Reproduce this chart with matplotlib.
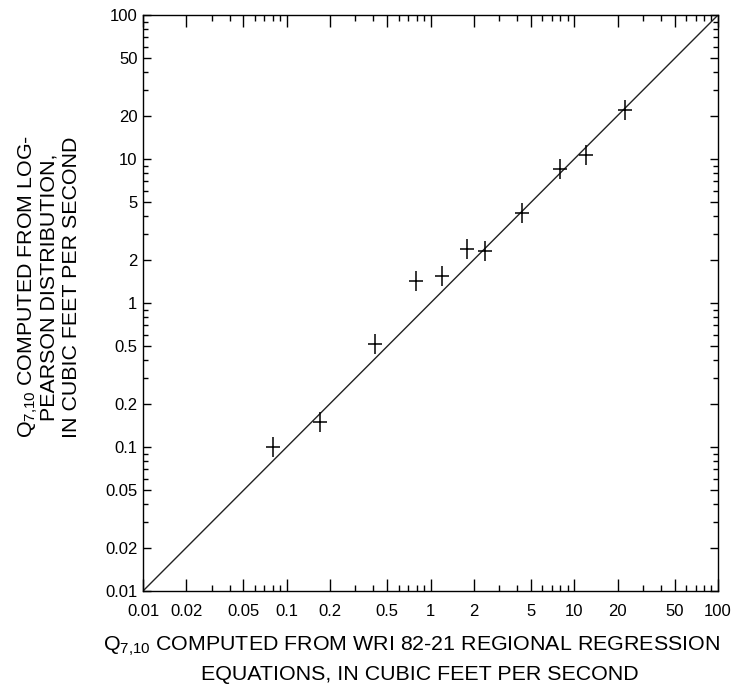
import matplotlib
matplotlib.use("Agg")
import matplotlib.pyplot as plt
from matplotlib.path import Path
from matplotlib.ticker import FixedLocator, NullFormatter

plt.rcParams['font.family'] = ['Liberation Sans', 'DejaVu Sans']
plt.rcParams['mathtext.fontset'] = 'custom'
plt.rcParams['mathtext.rm'] = 'Liberation Sans'

# Q7,10 from regression equations (x) vs log-Pearson distribution (y)
q_regression = [0.08, 0.17, 0.41, 0.79, 1.2, 1.8, 2.4, 4.3, 8.0, 12.0, 22.5]
q_logpearson = [0.10, 0.15, 0.52, 1.42, 1.55, 2.36, 2.3, 4.2, 8.5, 10.6, 22.0]

major_ticks = [0.01, 0.02, 0.05, 0.1, 0.2, 0.5, 1, 2, 5, 10, 20, 50, 100]
tick_labels = ['0.01', '0.02', '0.05', '0.1', '0.2', '0.5', '1', '2', '5',
               '10', '20', '50', '100']
minor_ticks = [m * d for d in [0.01, 0.1, 1, 10] for m in [3, 4, 6, 7, 8, 9]]

# cross marker, taller than wide
cross = Path([(-0.7, 0), (0.7, 0), (0, -1), (0, 1)],
             [Path.MOVETO, Path.LINETO, Path.MOVETO, Path.LINETO])

fig = plt.figure(figsize=(7.39, 6.89), dpi=100)
ax = fig.add_axes([143 / 739, 1 - 591 / 689, 575 / 739, 576 / 689])

ax.plot([0.01, 100], [0.01, 100], color='#222222', lw=1.0)
ax.plot(q_regression, q_logpearson, linestyle='none', marker=cross,
        markersize=14.4, markeredgewidth=1.1, color='black')

ax.set_xscale('log')
ax.set_yscale('log')
ax.set_xlim(0.01, 100)
ax.set_ylim(0.01, 100)

for axis in [ax.xaxis, ax.yaxis]:
    axis.set_major_locator(FixedLocator(major_ticks))
    axis.set_minor_locator(FixedLocator(minor_ticks))
    axis.set_minor_formatter(NullFormatter())
ax.set_xticklabels(tick_labels)
ax.set_yticklabels(tick_labels)

ax.tick_params(which='both', direction='in', top=True, right=True,
               labelsize=12, colors='black', width=1.0)
ax.tick_params(axis='x', which='major', length=8.6, pad=9.5)
ax.tick_params(axis='x', which='minor', length=4.0)
ax.tick_params(axis='y', which='major', length=5.8, pad=4)
ax.tick_params(axis='y', which='minor', length=3.4)
for s in ax.spines.values():
    s.set_linewidth(1.0)

q_sub = r'$\mathregular{Q_{7{,}10}}$'
fs = 15.4

# x-axis label lines
fig.text(411 / 739, 1 - 651 / 689,
         q_sub + ' COMPUTED FROM WRI 82-21 REGIONAL REGRESSION',
         ha='center', va='baseline', fontsize=fs)
fig.text(420 / 739, 1 - 680 / 689, 'EQUATIONS, IN CUBIC FEET PER SECOND',
         ha='center', va='baseline', fontsize=fs)

# y-axis label lines
ylines = [(q_sub + ' COMPUTED FROM LOG-', 33),
          ('PEARSON DISTRIBUTION,', 55),
          ('IN CUBIC FEET PER SECOND', 77)]
for txt, xb in ylines:
    fig.text(xb / 739, 1 - 287 / 689, txt, rotation=90, rotation_mode='anchor',
             ha='center', va='baseline', fontsize=fs)

fig.savefig('out.png', dpi=100)
